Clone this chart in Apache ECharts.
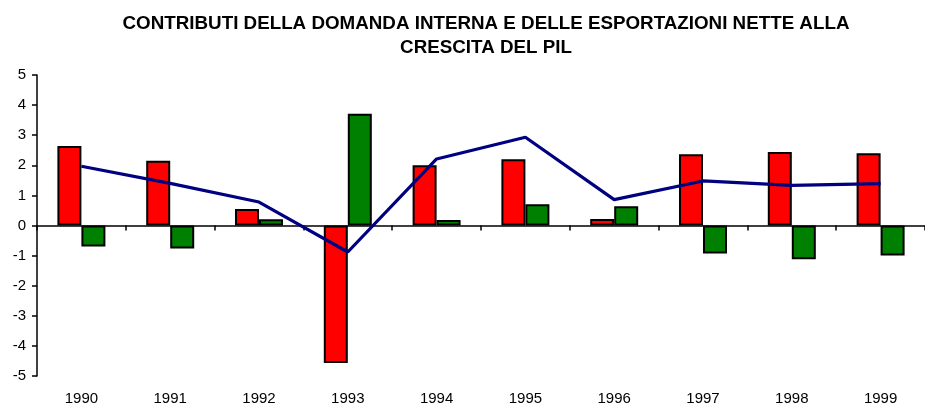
<!DOCTYPE html>
<html>
<head>
<meta charset="utf-8">
<script src="https://cdn.jsdelivr.net/npm/echarts@6/dist/echarts.min.js"></script>
<style>html,body{margin:0;padding:0;background:#fff}#c{width:925px;height:407px}</style>
</head>
<body>
<div id="c"></div>
<script>
var years = ['1990','1991','1992','1993','1994','1995','1996','1997','1998','1999'];
var domandaInterna = [2.64, 2.15, 0.55, -4.57, 2.00, 2.20, 0.22, 2.37, 2.44, 2.40];
var esportazioniNette = [-0.70, -0.76, 0.21, 3.71, 0.18, 0.71, 0.64, -0.93, -1.12, -1.00];
var pil = [1.97, 1.40, 0.78, -0.88, 2.21, 2.93, 0.86, 1.48, 1.33, 1.39];
var titleText = 'CONTRIBUTI DELLA DOMANDA INTERNA E DELLE ESPORTAZIONI NETTE ALLA\nCRESCITA DEL PIL';

var chart = echarts.init(document.getElementById('c'), null, {renderer: 'canvas'});
var font = 'Liberation Sans, Arial, sans-serif';
chart.setOption({
  animation: false,
  backgroundColor: '#ffffff',
  title: {
    text: titleText,
    left: 481, textAlign: 'center', top: 7,
    textStyle: {fontFamily: font, fontSize: 18.8, fontWeight: 'bold', color: '#000', lineHeight: 24}
  },
  grid: {left: 37, right: -7, top: 75, bottom: 31, containLabel: false},
  xAxis: [{
    type: 'category', data: years, position: 'bottom',
    axisLine: {show: false, onZero: false},
    axisTick: {show: false},
    axisLabel: {fontFamily: font, fontSize: 15, color: '#000', margin: 15}
  }, {
    type: 'category', data: years, position: 'bottom',
    axisLine: {show: true, onZero: true, lineStyle: {color: '#000', width: 1.5}},
    axisTick: {show: true, length: 5, inside: false, lineStyle: {color: '#000', width: 1.5}},
    axisLabel: {show: false}
  }],
  yAxis: {
    type: 'value', min: -5, max: 5, interval: 1,
    axisLine: {show: true, lineStyle: {color: '#000', width: 1.5}},
    axisTick: {show: true, length: 5, lineStyle: {color: '#000', width: 1.5}},
    splitLine: {show: false},
    axisLabel: {fontFamily: font, fontSize: 15, color: '#000', margin: 11}
  },
  series: [{
    type: 'bar', data: domandaInterna, xAxisIndex: 0, barWidth: 24, barGap: '0%',
    itemStyle: {color: '#ff0000', borderColor: '#000', borderWidth: 2}
  }, {
    type: 'bar', data: esportazioniNette, xAxisIndex: 0, barWidth: 24, barGap: '0%',
    itemStyle: {color: '#008000', borderColor: '#000', borderWidth: 2}
  }, {
    type: 'line', data: pil, xAxisIndex: 0, showSymbol: false, symbol: 'none',
    lineStyle: {color: '#000080', width: 3.2}, z: 5
  }]
});
</script>
</body>
</html>
